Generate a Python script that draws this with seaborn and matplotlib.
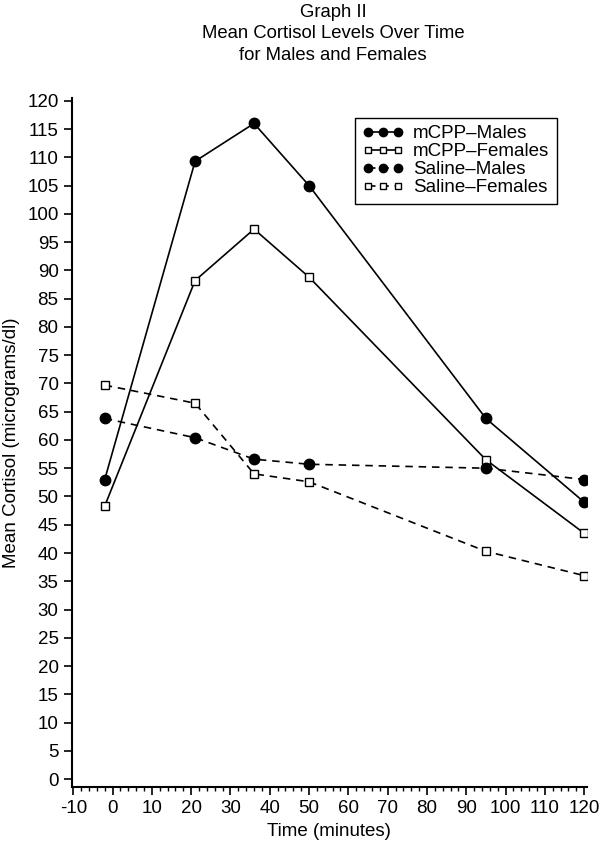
import pandas as pd
import matplotlib
matplotlib.use("Agg")
import matplotlib.pyplot as plt
import seaborn as sns
from matplotlib.ticker import MultipleLocator

# data
time_min = [-2, 21, 36, 50, 95, 120]
mcpp_males = [53.0, 109.3, 116.0, 105.0, 63.8, 49.0]
mcpp_females = [48.3, 88.2, 97.3, 88.8, 56.5, 43.5]
saline_males = [63.8, 60.4, 56.6, 55.7, 55.0, 53.0]
saline_females = [69.7, 66.5, 54.0, 52.6, 40.3, 36.0]

sns.set_style("ticks")
plt.rcParams['font.family'] = ['Liberation Sans', 'DejaVu Sans']
plt.rcParams['axes.unicode_minus'] = False
plt.rcParams['text.color'] = 'black'
plt.rcParams['axes.labelcolor'] = 'black'
plt.rcParams['xtick.color'] = 'black'
plt.rcParams['ytick.color'] = 'black'

fig = plt.figure(figsize=(6, 8.49), dpi=100)
ax = fig.add_axes([0.1195, 0.073, 0.858, 0.8116])

series = [
    ("mCPP\u2013Males", mcpp_males, "o", "black", "-"),
    ("mCPP\u2013Females", mcpp_females, "s", "white", "-"),
    ("Saline\u2013Males", saline_males, "o", "black", (0, (4.5, 3.5))),
    ("Saline\u2013Females", saline_females, "s", "white", (0, (4.5, 3.5))),
]

for name, vals, mk, fc, ls in series:
    df = pd.DataFrame({"t": time_min, "v": vals})
    sns.lineplot(data=df, x="t", y="v", ax=ax, color="black", linewidth=1.2,
                 linestyle=ls, marker=mk, markersize=7.5 if mk == "o" else 6,
                 markerfacecolor=fc, markeredgecolor="black", markeredgewidth=1.0,
                 label=name)

ax.set_xlim(-10.4, 120.6)
ax.set_ylim(-1.4, 120.5)
ax.xaxis.set_major_locator(MultipleLocator(10))
ax.xaxis.set_minor_locator(MultipleLocator(2))
ax.yaxis.set_major_locator(MultipleLocator(5))
ax.tick_params(axis="both", which="major", length=6, width=1.2, labelsize=13.5)
ax.tick_params(axis="x", which="minor", length=3, width=1.0)
for s in ["left", "bottom"]:
    ax.spines[s].set_linewidth(1.5)
    ax.spines[s].set_color("black")
sns.despine(ax=ax)

ax.set_xlabel("Time (minutes)", fontsize=13.5, labelpad=4)
ax.set_ylabel("Mean Cortisol (micrograms/dl)", fontsize=13.5, labelpad=5)

leg = ax.legend(loc="upper right", bbox_to_anchor=(0.96, 0.985), numpoints=3,
                handlelength=2.2, fontsize=13.5, frameon=True, fancybox=False,
                edgecolor="black", framealpha=1, borderpad=0.4, labelspacing=0.05,
                handletextpad=0.5, markerscale=0.8)
leg.get_frame().set_linewidth(1.0)

fig.text(0.555, 0.995, "Graph II\nMean Cortisol Levels Over Time\nfor Males and Females",
         ha="center", va="top", fontsize=13.3, linespacing=1.32)

fig.savefig("out.png", dpi=100)
